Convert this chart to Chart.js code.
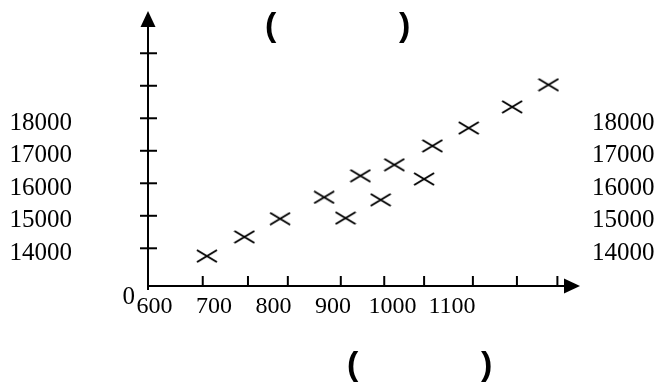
<!DOCTYPE html>
<html><head><meta charset="utf-8">
<script src="https://cdn.jsdelivr.net/npm/chart.js@4"></script>
<style>html,body{margin:0;padding:0;background:#fff}</style>
</head><body>
<canvas id="c" width="657" height="387"></canvas>
<script>
// ---- data ----
const xValues = [688, 751, 811, 885, 921, 946, 980, 1003, 1053, 1067, 1128, 1201, 1262];
const yValues = [13760, 14350, 14910, 15570, 14930, 16230, 15490, 16570, 16130, 17150, 17700, 18350, 19030];
const xTickLabels = [600, 700, 800, 900, 1000, 1100];
const yTickLabels = [14000, 15000, 16000, 17000, 18000];
const yTickMarks = [14000, 15000, 16000, 17000, 18000, 19000, 20000];
const xTickMarks = [681, 757, 824, 913, 986, 1053, 1135, 1209, 1277];
const originLabel = '0';
const topCaption = ['(', ')'];
const bottomCaption = ['(', ')'];

// ---- scale bounds ----
const X_MIN = 589, X_MAX = 1315, Y_MIN = 12840, Y_MAX = 21300;

function makeCross(w, h, lw) {
  const c = document.createElement('canvas');
  c.width = w; c.height = h;
  const g = c.getContext('2d');
  g.strokeStyle = '#000'; g.lineWidth = lw;
  g.beginPath();
  g.moveTo(1, 1); g.lineTo(w - 1, h - 1);
  g.moveTo(1, h - 1); g.lineTo(w - 1, 1);
  g.stroke();
  return c;
}
const crossImg = makeCross(22, 14, 2);

const serif = '"Liberation Serif", "Times New Roman", serif';

const axesPlugin = {
  id: 'axesArrows',
  afterDraw(chart) {
    const ctx = chart.ctx;
    const xs = chart.scales.x, ys = chart.scales.y;
    const ox = chart.chartArea.left, oy = ys.getPixelForValue(Y_MIN);
    const top = chart.chartArea.top, right = chart.chartArea.right;
    const aLen = 16, aHalf = 7.5;
    ctx.save();
    ctx.strokeStyle = '#000'; ctx.fillStyle = '#000'; ctx.lineWidth = 2;
    // y axis
    ctx.beginPath(); ctx.moveTo(ox, oy + 4); ctx.lineTo(ox, top + aLen - 1); ctx.stroke();
    ctx.beginPath(); ctx.moveTo(ox, top); ctx.lineTo(ox - aHalf, top + aLen); ctx.lineTo(ox + aHalf, top + aLen); ctx.closePath(); ctx.fill();
    // x axis
    ctx.beginPath(); ctx.moveTo(ox - 1, oy); ctx.lineTo(right - aLen + 1, oy); ctx.stroke();
    ctx.beginPath(); ctx.moveTo(right, oy); ctx.lineTo(right - aLen, oy - aHalf); ctx.lineTo(right - aLen, oy + aHalf); ctx.closePath(); ctx.fill();
    // y tick marks (crossing the axis)
    yTickMarks.forEach(v => {
      const p = ys.getPixelForValue(v);
      ctx.beginPath(); ctx.moveTo(ox - 8, p); ctx.lineTo(ox + 9, p); ctx.stroke();
    });
    // x tick marks (inside)
    xTickMarks.forEach(v => {
      const p = xs.getPixelForValue(v);
      ctx.beginPath(); ctx.moveTo(p, oy); ctx.lineTo(p, oy - 10); ctx.stroke();
    });
    // captions
    ctx.font = 'bold 34px "Liberation Sans", Arial, sans-serif';
    ctx.textBaseline = 'alphabetic'; ctx.textAlign = 'left';
    ctx.fillText(topCaption[0], 265, 36);
    ctx.fillText(topCaption[1], 399, 36);
    ctx.fillText(bottomCaption[0], 347, 375);
    ctx.fillText(bottomCaption[1], 481, 375);
    ctx.restore();
  }
};

function vFit(w) {
  return s => { s.width = w; s.paddingTop = 0; s.paddingBottom = 0; };
}
const noGrid = { display: false, drawTicks: false };
const yAxisBase = {
  type: 'linear', min: Y_MIN, max: Y_MAX,
  grid: noGrid, border: { display: false }
};

new Chart(document.getElementById('c'), {
  type: 'scatter',
  data: {
    datasets: [{
      data: xValues.map((x, i) => ({ x, y: yValues[i] })),
      pointStyle: crossImg,
      pointRadius: 10,
      xAxisID: 'x', yAxisID: 'y'
    }]
  },
  options: {
    responsive: false,
    animation: false,
    devicePixelRatio: 1,
    layout: { padding: { left: 4, right: 0, top: 9, bottom: 66.2 } },
    plugins: { legend: { display: false }, tooltip: { enabled: false }, title: { display: false } },
    scales: {
      x: {
        type: 'linear', min: X_MIN, max: X_MAX,
        grid: noGrid, border: { display: false },
        afterBuildTicks: s => { s.ticks = xTickLabels.map(v => ({ value: v })); },
        afterFit: s => { s.height = 34.8; s.paddingLeft = 0; s.paddingRight = 0; },
        ticks: { autoSkip: false, maxRotation: 0, minRotation: 0, padding: 6, color: '#000',
                 font: { family: serif, size: 24 }, callback: v => String(v) }
      },
      y: Object.assign({}, yAxisBase, {
        position: 'left', weight: 2,
        afterBuildTicks: s => { s.ticks = yTickLabels.map(v => ({ value: v })); },
        afterFit: vFit(117),
        ticks: { autoSkip: false, padding: 49, labelOffset: 5, color: '#000',
                 font: { family: serif, size: 25 }, callback: v => String(v) }
      }),
      yZero: Object.assign({}, yAxisBase, {
        position: 'left', weight: 1,
        afterBuildTicks: s => { s.ticks = [{ value: Y_MIN }]; },
        afterFit: vFit(27),
        ticks: { autoSkip: false, padding: 13, labelOffset: 11, color: '#000',
                 font: { family: serif, size: 25 }, callback: () => originLabel }
      }),
      y1: Object.assign({}, yAxisBase, {
        position: 'right', weight: 1,
        afterBuildTicks: s => { s.ticks = yTickLabels.map(v => ({ value: v })); },
        afterFit: vFit(77),
        ticks: { autoSkip: false, padding: 12, labelOffset: 5, color: '#000',
                 font: { family: serif, size: 25 }, callback: v => String(v) }
      })
    }
  },
  plugins: [axesPlugin]
});
</script>
</body></html>
